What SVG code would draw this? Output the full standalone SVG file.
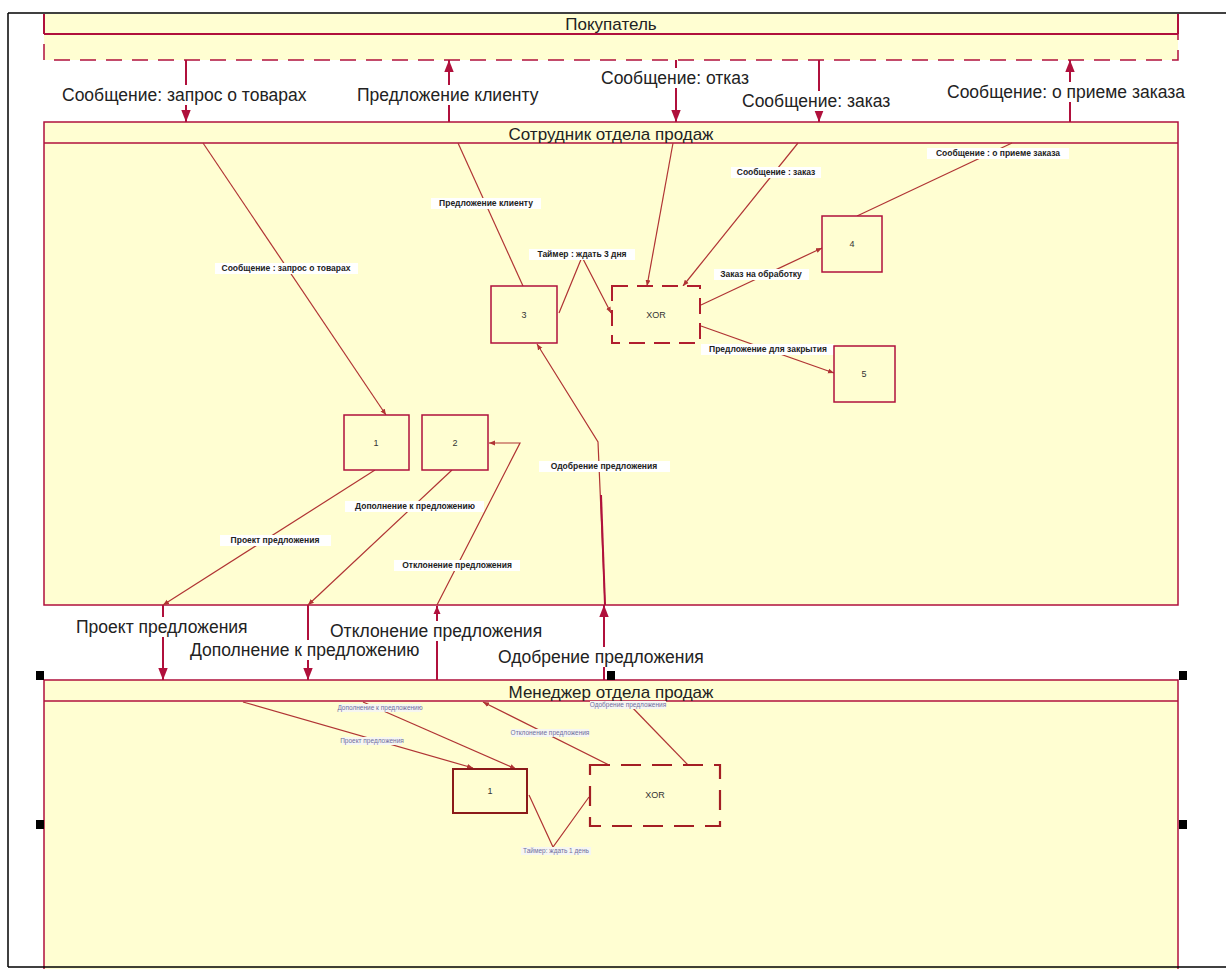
<svg xmlns="http://www.w3.org/2000/svg" width="1226" height="969" viewBox="0 0 1226 969">
<style>
.lane{fill:#FFFED2;stroke:#B0103C;stroke-width:1.5}
.hdr{font-family:"Liberation Sans",Arial,sans-serif;font-size:17px;fill:#222;text-anchor:middle}
.big{stroke:#B0103C;stroke-width:2;fill:none}
.thin{stroke:#B03434;stroke-width:1.2;fill:none}
.lbl{font-family:"Liberation Sans",Arial,sans-serif;font-size:17.5px;fill:#222}
.bg{fill:#FFFFFF}
.sl{font-family:"Liberation Sans",Arial,sans-serif;font-size:8.5px;font-weight:bold;fill:#222;text-anchor:middle}
.tl{font-family:"Liberation Sans",Arial,sans-serif;font-size:6.5px;fill:#6F6FA0;text-anchor:middle}
.tbg{fill:#F6F6F2}
.box{fill:#FFFED2;stroke:#B0103C;stroke-width:1.5}
.box3{fill:#FFFED2;stroke:#8B1A1A;stroke-width:2}
.xor{fill:#FFFED2;stroke:#B01E2E;stroke-width:2;stroke-dasharray:16 9}
.xor3{fill:#FFFED2;stroke:#A31E24;stroke-width:2.2;stroke-dasharray:20 11}
.nt{font-family:"Liberation Sans",Arial,sans-serif;font-size:9px;fill:#333;text-anchor:middle}
.hd{fill:#000}
</style>
<defs>
<marker id="ab" markerUnits="userSpaceOnUse" markerWidth="12" markerHeight="15" refX="14" refY="5.5" viewBox="0 0 14 11" orient="auto"><path d="M0,0 L14,5.5 L0,11 Z" fill="#B0103C"/></marker>
<marker id="am" markerUnits="userSpaceOnUse" markerWidth="8" markerHeight="8" refX="8" refY="3.5" viewBox="0 0 8 7" orient="auto"><path d="M0,0 L8,3.5 L0,7 Z" fill="#B0103C"/></marker>
<marker id="as" markerUnits="userSpaceOnUse" markerWidth="6" markerHeight="6" refX="6" refY="2.5" viewBox="0 0 6 5" orient="auto"><path d="M0,0 L6,2.5 L0,5 Z" fill="#B03434"/></marker>
</defs>

<g id="frame">
<line x1="8" y1="13" x2="1226" y2="13" stroke="#000" stroke-width="1.5"/>
<line x1="8" y1="13" x2="8" y2="967" stroke="#000" stroke-width="1.5"/>
</g>

<g id="lane-pokupatel">
<rect x="44" y="14" width="1134" height="46" fill="#FFFED2"/>
<path d="M44,14 V34 M1178,14 V34 M44,34 H1178" class="big" stroke-width="1.5"/>
<path d="M44,34 V60 H1178 V34" fill="none" stroke="#B0103C" stroke-width="1.5" stroke-dasharray="16 10" stroke-dashoffset="-10"/>
<text class="hdr" x="611" y="30">Покупатель</text>
</g>

<g id="lane-sotrudnik">
<rect class="lane" x="44" y="122" width="1134" height="483"/>
<line x1="44" y1="143" x2="1178" y2="143" stroke="#B0103C" stroke-width="1.5"/>
<text class="hdr" x="611" y="140">Сотрудник отдела продаж</text>
</g>

<g id="lane-menedzher">
<rect class="lane" x="44" y="680" width="1134" height="300"/>
<line x1="44" y1="701" x2="1178" y2="701" stroke="#B0103C" stroke-width="1.5"/>
<text class="hdr" x="611" y="698">Менеджер отдела продаж</text>
</g>

<g id="connectors">
<line class="big" x1="186" y1="60" x2="186" y2="122" marker-end="url(#ab)"/>
<line class="big" x1="449" y1="122" x2="449" y2="60" marker-end="url(#ab)"/>
<line class="big" x1="676" y1="60" x2="676" y2="122" marker-end="url(#ab)"/>
<line class="big" x1="819" y1="60" x2="819" y2="122" marker-end="url(#ab)"/>
<line class="big" x1="1070" y1="122" x2="1070" y2="60" marker-end="url(#ab)"/>
<line class="big" x1="163" y1="605" x2="163" y2="680" marker-end="url(#ab)"/>
<line class="big" x1="308" y1="605" x2="308" y2="680" marker-end="url(#ab)"/>
<line class="big" x1="437" y1="680" x2="437" y2="606" stroke-width="1.5" marker-end="url(#am)"/>
<line class="big" x1="604" y1="680" x2="604" y2="605" marker-end="url(#ab)"/>

<rect class="bg" x="60" y="85" width="252" height="20"/>
<text class="lbl" x="62" y="101">Сообщение: запрос о товарах</text>
<rect class="bg" x="355" y="85" width="190" height="20"/>
<text class="lbl" x="357" y="101">Предложение клиенту</text>
<rect class="bg" x="599" y="68" width="160" height="20"/>
<text class="lbl" x="601" y="84">Сообщение: отказ</text>
<rect class="bg" x="740" y="91" width="158" height="20"/>
<text class="lbl" x="742" y="107">Сообщение: заказ</text>
<rect class="bg" x="945" y="82" width="250" height="20"/>
<text class="lbl" x="947" y="98">Сообщение: о приеме заказа</text>
<rect class="bg" x="74" y="617" width="182" height="20"/>
<text class="lbl" x="76" y="633">Проект предложения</text>
<rect class="bg" x="188" y="640" width="236" height="20"/>
<text class="lbl" x="190" y="656">Дополнение к предложению</text>
<rect class="bg" x="328" y="621" width="218" height="20"/>
<text class="lbl" x="330" y="637">Отклонение предложения</text>
<rect class="bg" x="496" y="647" width="213" height="20"/>
<text class="lbl" x="498" y="663">Одобрение предложения</text>

<line class="thin" x1="203" y1="143" x2="386" y2="415" marker-end="url(#as)"/>
<line class="thin" x1="458" y1="143" x2="523" y2="286"/>
<polyline class="thin" points="559,313 582,257 611,313" marker-end="url(#as)"/>
<line class="thin" x1="673" y1="143" x2="647" y2="286" marker-end="url(#as)"/>
<line class="thin" x1="798" y1="143" x2="683" y2="286" marker-end="url(#as)"/>
<line class="thin" x1="701" y1="305" x2="822" y2="248" marker-end="url(#as)"/>
<line class="thin" x1="857" y1="216" x2="1012" y2="143"/>
<line class="thin" x1="701" y1="326" x2="834" y2="373" marker-end="url(#as)"/>
<line class="thin" x1="375" y1="470" x2="163" y2="605" marker-end="url(#as)"/>
<line class="thin" x1="452" y1="470" x2="308" y2="605" marker-end="url(#as)"/>
<polyline class="thin" points="437,605 520,443 489,443" marker-end="url(#as)"/>
<polyline class="thin" points="605,605 598,442 537,344" marker-end="url(#as)"/>
<line x1="601" y1="495" x2="605" y2="605" stroke="#B0103C" stroke-width="2"/>

<rect class="bg" x="215" y="263" width="143" height="11"/>
<text class="sl" x="286" y="271">Сообщение : запрос о товарах</text>
<rect class="bg" x="431" y="198" width="110" height="11"/>
<text class="sl" x="486" y="206">Предложение клиенту</text>
<rect class="bg" x="529" y="249" width="106" height="11"/>
<text class="sl" x="582" y="257">Таймер : ждать 3 дня</text>
<rect class="bg" x="731" y="167" width="90" height="11"/>
<text class="sl" x="776" y="175">Сообщение : заказ</text>
<rect class="bg" x="927" y="148" width="142" height="11"/>
<text class="sl" x="998" y="156">Сообщение : о приеме заказа</text>
<rect class="bg" x="714" y="269" width="95" height="11"/>
<text class="sl" x="761" y="277">Заказ на обработку</text>
<rect class="bg" x="701" y="344" width="133" height="11"/>
<text class="sl" x="768" y="352">Предложение для закрытия</text>
<rect class="bg" x="220" y="535" width="111" height="11"/>
<text class="sl" x="275" y="543">Проект предложения</text>
<rect class="bg" x="345" y="501" width="139" height="11"/>
<text class="sl" x="415" y="509">Дополнение к предложению</text>
<rect class="bg" x="394" y="560" width="126" height="11"/>
<text class="sl" x="457" y="568">Отклонение предложения</text>
<rect class="bg" x="539" y="461" width="131" height="11"/>
<text class="sl" x="604" y="469">Одобрение предложения</text>

<line class="thin" x1="243" y1="702" x2="473" y2="768" marker-end="url(#as)"/>
<line class="thin" x1="363" y1="702" x2="516" y2="769" marker-end="url(#as)"/>
<line class="thin" x1="609" y1="765" x2="483" y2="702" marker-end="url(#as)"/>
<line class="thin" x1="688" y1="765" x2="628" y2="703"/>
<polyline class="thin" points="529,795 553,847 589,797"/>

<rect class="tbg" x="342" y="737" width="60" height="8"/>
<text class="tl" x="372" y="743">Проект предложения</text>
<rect class="tbg" x="339" y="704" width="82" height="8"/>
<text class="tl" x="380" y="710">Дополнение к предложению</text>
<rect class="tbg" x="511" y="729" width="78" height="8"/>
<text class="tl" x="550" y="735">Отклонение предложения</text>
<rect class="tbg" x="590" y="701" width="76" height="8"/>
<text class="tl" x="628" y="707">Одобрение предложения</text>
<rect class="tbg" x="521" y="847" width="70" height="8"/>
<text class="tl" x="556" y="853">Таймер: ждать 1 день</text>
</g>

<g id="node-s1"><rect class="box" x="344" y="415" width="65" height="55"/><text class="nt" x="376" y="446">1</text></g>
<g id="node-s2"><rect class="box" x="422" y="415" width="66" height="55"/><text class="nt" x="455" y="446">2</text></g>
<g id="node-s3"><rect class="box" x="491" y="286" width="66" height="57"/><text class="nt" x="524" y="318">3</text></g>
<g id="node-sxor"><rect class="xor" x="612" y="286" width="88" height="57"/><text class="nt" x="656" y="318">XOR</text></g>
<g id="node-s4"><rect class="box" x="822" y="216" width="60" height="56"/><text class="nt" x="852" y="247">4</text></g>
<g id="node-s5"><rect class="box" x="834" y="346" width="61" height="56"/><text class="nt" x="864" y="377">5</text></g>

<g id="node-m1"><rect class="box3" x="453" y="769" width="74" height="44"/><text class="nt" x="490" y="794">1</text></g>
<g id="node-mxor"><rect class="xor3" x="590" y="765" width="130" height="61"/><text class="nt" x="655" y="798">XOR</text></g>

<g id="handles">
<rect class="hd" x="36" y="671" width="8" height="9"/>
<rect class="hd" x="607" y="671" width="8" height="9"/>
<rect class="hd" x="1179" y="671" width="8" height="9"/>
<rect class="hd" x="36" y="820" width="8" height="9"/>
<rect class="hd" x="1179" y="820" width="8" height="9"/>
</g>

<g id="frame-bottom">
<line x1="8" y1="967" x2="1226" y2="967" stroke="#000" stroke-width="1.5"/>
</g>
</svg>
